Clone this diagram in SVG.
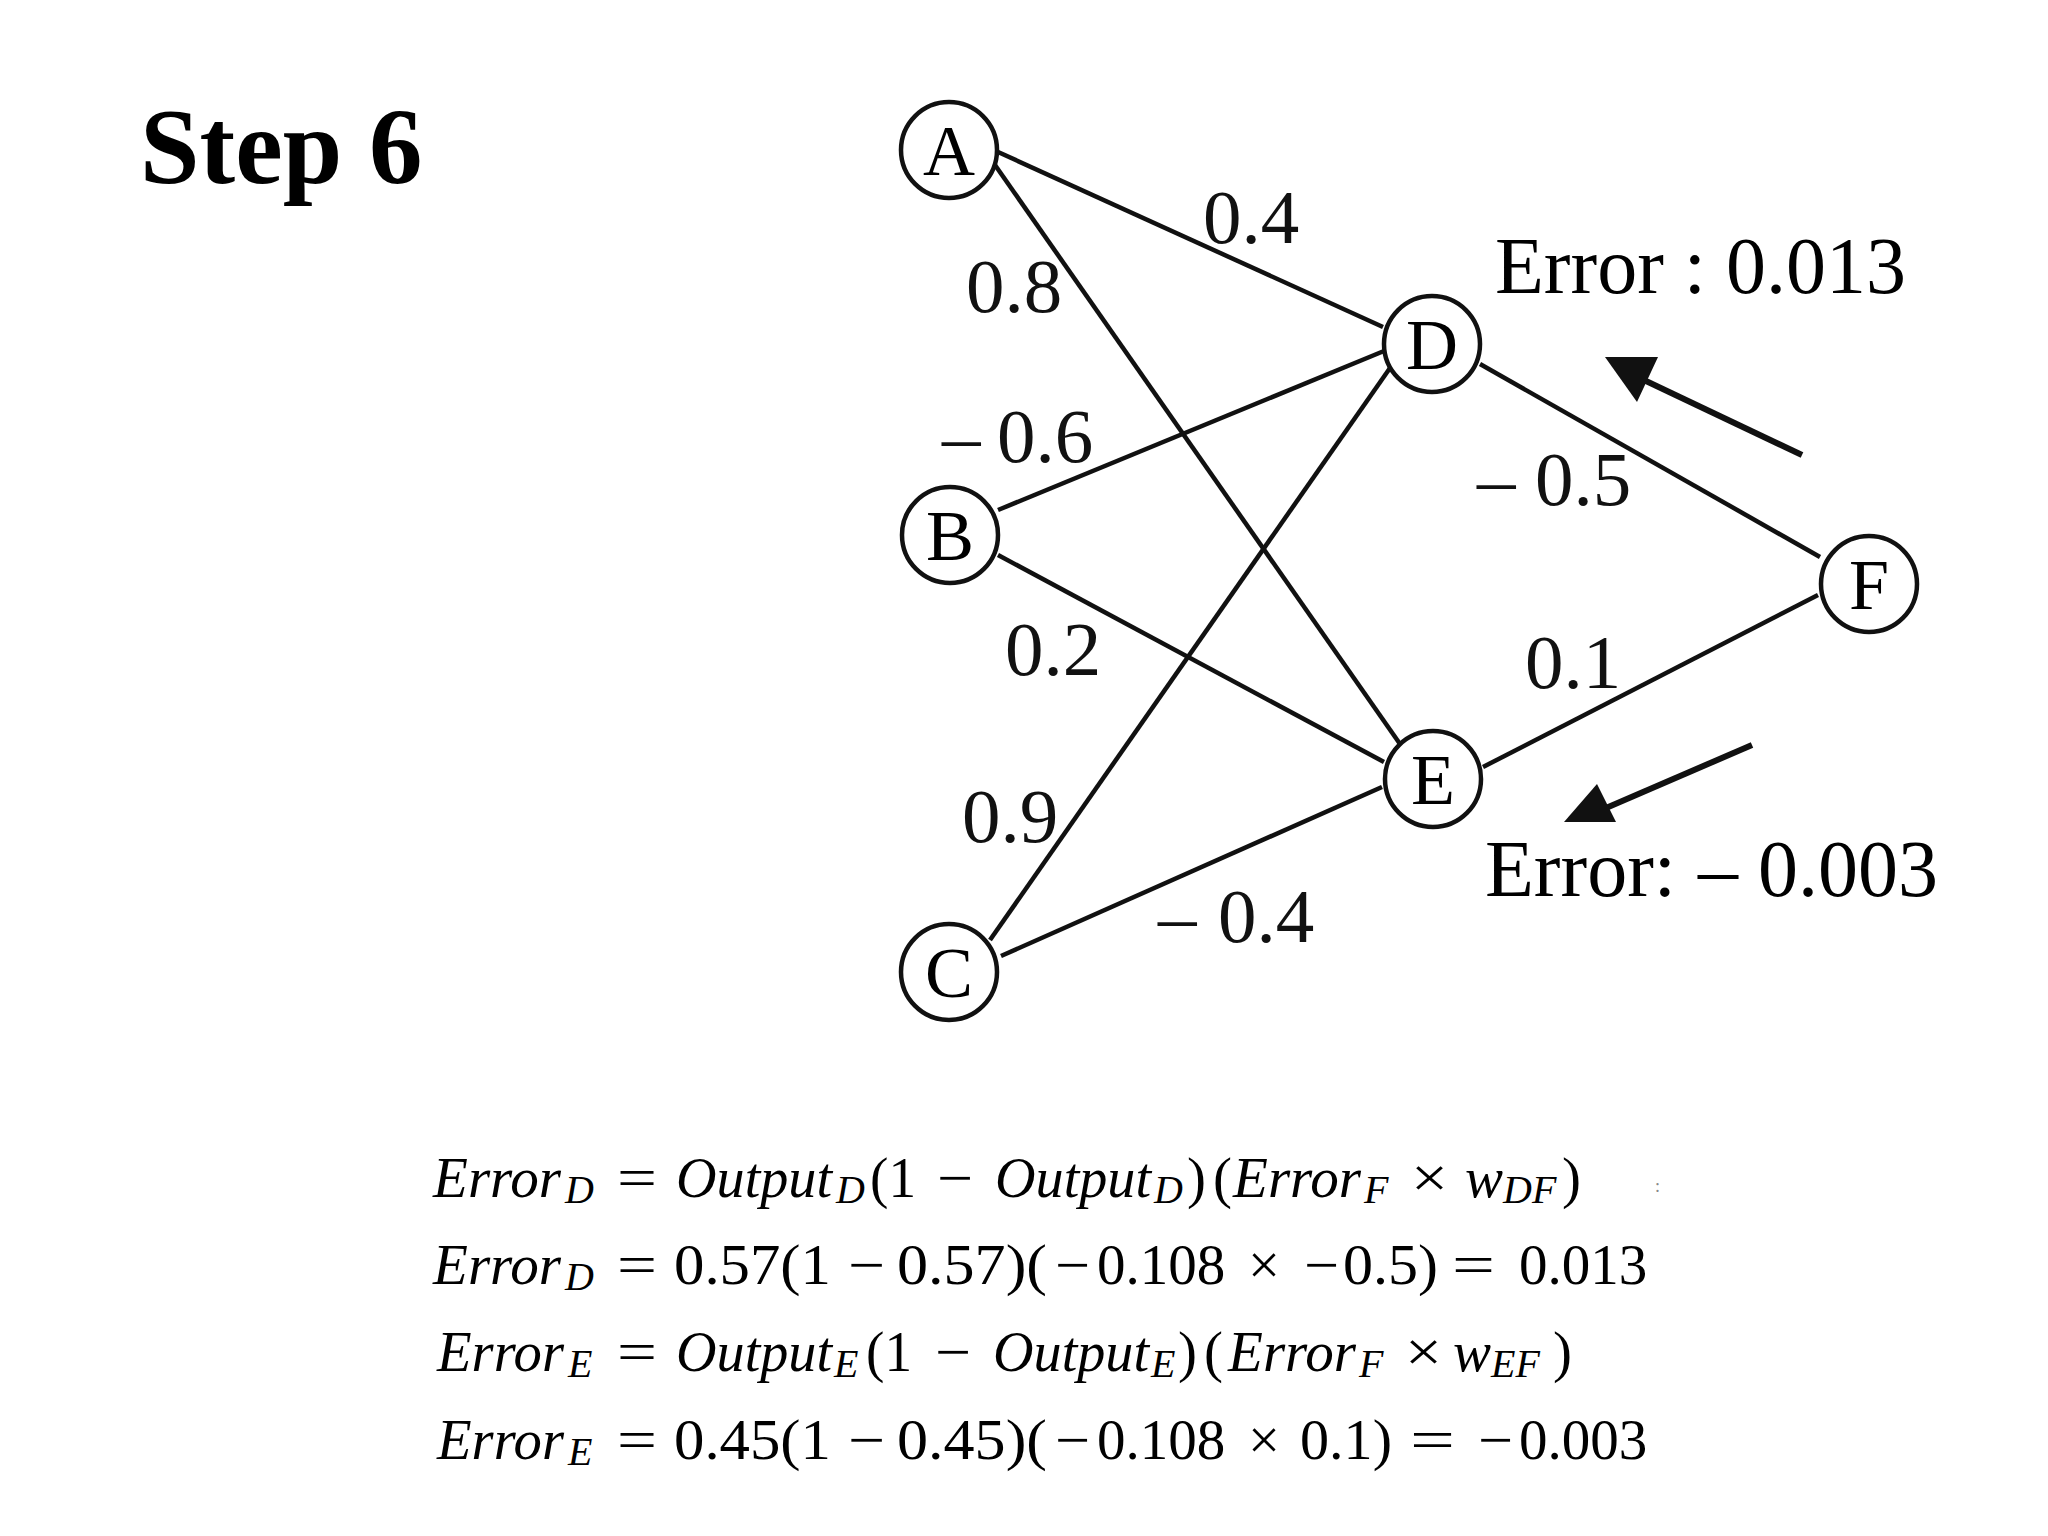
<svg xmlns="http://www.w3.org/2000/svg" width="2048" height="1536" viewBox="0 0 2048 1536">
<style>
.node{fill:#fff;stroke:#111;stroke-width:4.5}
.nl{font-family:"Liberation Serif","Times New Roman",serif;font-size:72px;fill:#000;text-anchor:middle}
.edge{stroke:#111;stroke-width:4.5;fill:none}
.arr{stroke:#111;stroke-width:6;fill:none}
.ah{fill:#111}
.lbl{font-family:"Liberation Serif","Times New Roman",serif;font-size:77px;fill:#111}
.err{font-family:"Liberation Serif","Times New Roman",serif;font-size:80px;fill:#000}
.title{font-family:"Liberation Serif","Times New Roman",serif;font-size:107px;font-weight:bold;fill:#000}
.eq{font-family:"Liberation Serif","Times New Roman",serif;font-size:57px;fill:#000}
.it{font-style:italic}
.sub{font-size:40px;font-style:italic}
</style>
<rect width="2048" height="1536" fill="#fff"/>
<text class="title" x="140" y="183">Step 6</text>

<g id="connectors">
<line class="edge" x1="998" y1="152" x2="1383" y2="327"/>
<line class="edge" x1="995" y1="165" x2="1400" y2="744"/>
<line class="edge" x1="998" y1="510" x2="1384" y2="351"/>
<line class="edge" x1="998" y1="555" x2="1384" y2="762"/>
<line class="edge" x1="990" y1="940" x2="1390" y2="368"/>
<line class="edge" x1="1001" y1="956" x2="1382" y2="787"/>
<line class="edge" x1="1480" y1="364" x2="1820" y2="557"/>
<line class="edge" x1="1483" y1="767" x2="1818" y2="595"/>
<line class="arr" x1="1802" y1="455" x2="1646" y2="381"/>
<polygon class="ah" points="1605,357 1658,357 1637,402"/>
<line class="arr" x1="1752" y1="745" x2="1606" y2="808"/>
<polygon class="ah" points="1597,784 1564,822 1616,822"/>
</g>

<g id="node-A"><circle class="node" cx="949" cy="150" r="48"/><text class="nl" x="949" y="175">A</text></g>
<g id="node-B"><circle class="node" cx="950" cy="535" r="48"/><text class="nl" x="950" y="560">B</text></g>
<g id="node-C"><circle class="node" cx="949" cy="972" r="48"/><text class="nl" x="949" y="997">C</text></g>
<g id="node-D"><circle class="node" cx="1432" cy="344" r="48"/><text class="nl" x="1432" y="369">D</text></g>
<g id="node-E"><circle class="node" cx="1433" cy="779" r="48"/><text class="nl" x="1433" y="804">E</text></g>
<g id="node-F"><circle class="node" cx="1869" cy="584" r="48"/><text class="nl" x="1869" y="609">F</text></g>

<g id="weights">
<text class="lbl" x="1203" y="243">0.4</text>
<text class="lbl" x="966" y="312">0.8</text>
<text class="lbl" y="462"><tspan x="942">–</tspan><tspan x="997">0.6</tspan></text>
<text class="lbl" x="1005" y="675">0.2</text>
<text class="lbl" x="962" y="842">0.9</text>
<text class="lbl" y="942"><tspan x="1158">–</tspan><tspan x="1218">0.4</tspan></text>
<text class="lbl" y="505"><tspan x="1477">–</tspan><tspan x="1535">0.5</tspan></text>
<text class="lbl" x="1525" y="688">0.1</text>
</g>

<g id="errors">
<text class="err" x="1495" y="293">Error : 0.013</text>
<text class="err" y="896"><tspan x="1485">Error:</tspan><tspan x="1698">–</tspan><tspan x="1758">0.003</tspan></text>
</g>

<g id="equations">
<!-- line 1 -->
<text class="eq it" x="433" y="1197" textLength="128" lengthAdjust="spacingAndGlyphs">Error</text>
<text class="eq sub" x="565" y="1203">D</text>
<text class="eq" x="617" y="1197" textLength="40" lengthAdjust="spacingAndGlyphs">=</text>
<text class="eq it" x="676" y="1197" textLength="156" lengthAdjust="spacingAndGlyphs">Output</text>
<text class="eq sub" x="836" y="1203">D</text>
<text class="eq" x="870" y="1197" textLength="46" lengthAdjust="spacingAndGlyphs">(1</text>
<text class="eq" x="937" y="1197" textLength="36" lengthAdjust="spacingAndGlyphs">−</text>
<text class="eq it" x="995" y="1197" textLength="156" lengthAdjust="spacingAndGlyphs">Output</text>
<text class="eq sub" x="1154" y="1203">D</text>
<text class="eq" x="1187" y="1197">)</text>
<text class="eq" x="1213" y="1197">(</text>
<text class="eq it" x="1233" y="1197" textLength="128" lengthAdjust="spacingAndGlyphs">Error</text>
<text class="eq sub" x="1364" y="1203">F</text>
<text class="eq" x="1411" y="1197" textLength="37" lengthAdjust="spacingAndGlyphs">×</text>
<text class="eq it" x="1465" y="1197">w</text>
<text class="eq sub" x="1503" y="1203">DF</text>
<text class="eq" x="1562" y="1197">)</text>
<text class="eq" x="1655" y="1192" style="font-size:18px;fill:#888">:</text>

<!-- line 2 -->
<text class="eq it" x="433" y="1284" textLength="128" lengthAdjust="spacingAndGlyphs">Error</text>
<text class="eq sub" x="565" y="1290">D</text>
<text class="eq" x="617" y="1284" textLength="40" lengthAdjust="spacingAndGlyphs">=</text>
<text class="eq" x="674" y="1284" textLength="157" lengthAdjust="spacingAndGlyphs">0.57(1</text>
<text class="eq" x="848" y="1284" textLength="37" lengthAdjust="spacingAndGlyphs">−</text>
<text class="eq" x="897" y="1284" textLength="150" lengthAdjust="spacingAndGlyphs">0.57)(</text>
<text class="eq" x="1055" y="1284" textLength="35" lengthAdjust="spacingAndGlyphs">−</text>
<text class="eq" x="1097" y="1284">0.108</text>
<text class="eq" x="1248" y="1284" textLength="32" lengthAdjust="spacingAndGlyphs">×</text>
<text class="eq" x="1304" y="1284" textLength="35" lengthAdjust="spacingAndGlyphs">−</text>
<text class="eq" x="1343" y="1284" textLength="95" lengthAdjust="spacingAndGlyphs">0.5)</text>
<text class="eq" x="1452" y="1284" textLength="43" lengthAdjust="spacingAndGlyphs">=</text>
<text class="eq" x="1519" y="1284">0.013</text>

<!-- line 3 -->
<text class="eq it" x="437" y="1371" textLength="127" lengthAdjust="spacingAndGlyphs">Error</text>
<text class="eq sub" x="568" y="1377">E</text>
<text class="eq" x="617" y="1371" textLength="40" lengthAdjust="spacingAndGlyphs">=</text>
<text class="eq it" x="676" y="1371" textLength="156" lengthAdjust="spacingAndGlyphs">Output</text>
<text class="eq sub" x="834" y="1377">E</text>
<text class="eq" x="866" y="1371" textLength="46" lengthAdjust="spacingAndGlyphs">(1</text>
<text class="eq" x="935" y="1371" textLength="36" lengthAdjust="spacingAndGlyphs">−</text>
<text class="eq it" x="993" y="1371" textLength="156" lengthAdjust="spacingAndGlyphs">Output</text>
<text class="eq sub" x="1151" y="1377">E</text>
<text class="eq" x="1178" y="1371">)</text>
<text class="eq" x="1204" y="1371">(</text>
<text class="eq it" x="1228" y="1371" textLength="128" lengthAdjust="spacingAndGlyphs">Error</text>
<text class="eq sub" x="1359" y="1377">F</text>
<text class="eq" x="1405" y="1371" textLength="37" lengthAdjust="spacingAndGlyphs">×</text>
<text class="eq it" x="1453" y="1371">w</text>
<text class="eq sub" x="1491" y="1377">EF</text>
<text class="eq" x="1553" y="1371">)</text>

<!-- line 4 -->
<text class="eq it" x="437" y="1459" textLength="127" lengthAdjust="spacingAndGlyphs">Error</text>
<text class="eq sub" x="568" y="1465">E</text>
<text class="eq" x="617" y="1459" textLength="40" lengthAdjust="spacingAndGlyphs">=</text>
<text class="eq" x="674" y="1459" textLength="157" lengthAdjust="spacingAndGlyphs">0.45(1</text>
<text class="eq" x="848" y="1459" textLength="37" lengthAdjust="spacingAndGlyphs">−</text>
<text class="eq" x="897" y="1459" textLength="150" lengthAdjust="spacingAndGlyphs">0.45)(</text>
<text class="eq" x="1055" y="1459" textLength="35" lengthAdjust="spacingAndGlyphs">−</text>
<text class="eq" x="1097" y="1459">0.108</text>
<text class="eq" x="1248" y="1459" textLength="32" lengthAdjust="spacingAndGlyphs">×</text>
<text class="eq" x="1300" y="1459" textLength="92" lengthAdjust="spacingAndGlyphs">0.1)</text>
<text class="eq" x="1410" y="1459" textLength="45" lengthAdjust="spacingAndGlyphs">=</text>
<text class="eq" x="1478" y="1459" textLength="35" lengthAdjust="spacingAndGlyphs">−</text>
<text class="eq" x="1519" y="1459">0.003</text>
</g>
</svg>
